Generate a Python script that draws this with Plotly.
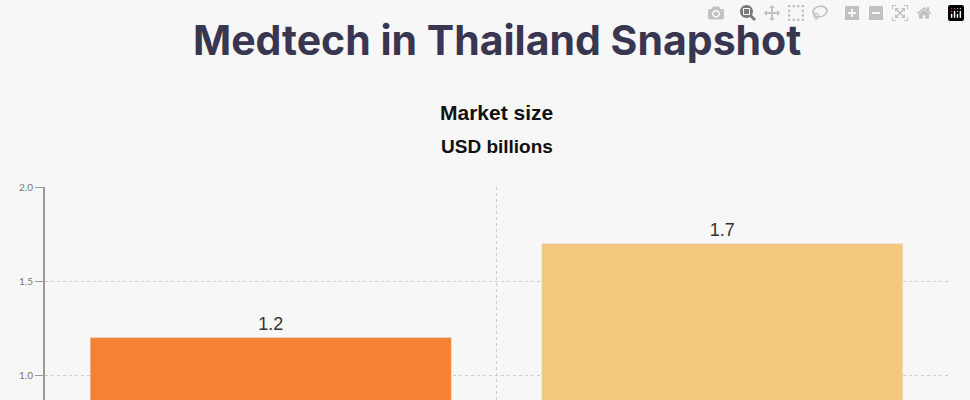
import plotly.graph_objects as go

categories = ["2020", "2025F"]
values = [1.2, 1.7]
labels = ["1.2", "1.7"]
colors = ["#f58232", "#f3c87e"]

H = 400
top = 187
px_per_unit = 188
ymin = 2.0 - (H - top) / px_per_unit

fig = go.Figure()
fig.add_trace(go.Bar(x=categories, y=values, marker_color=colors, width=0.8,
                     text=labels, textposition="outside",
                     textfont=dict(family="Liberation Sans, Arial", size=18, color="#333"),
                     cliponaxis=False, showlegend=False))
fig.add_trace(go.Scatter(x=[0, 2], y=[None, None], xaxis="x2", showlegend=False, hoverinfo="skip"))

fig.update_layout(
    width=970, height=H,
    paper_bgcolor="#f7f7f7", plot_bgcolor="#f7f7f7",
    margin=dict(l=45, r=22, t=top, b=0),
    bargap=0.2,
    xaxis=dict(type="category", showgrid=False, showline=False, ticks="", showticklabels=False),
    xaxis2=dict(overlaying="x", range=[0, 2], dtick=1, showgrid=True, griddash="dot",
                gridcolor="#cccccc", showticklabels=False, zeroline=False),
    yaxis=dict(range=[ymin, 2.0], tick0=0, dtick=0.5, tickformat=".1f", showgrid=True, griddash="dot",
               gridcolor="#cccccc", showline=True, linecolor="#999", linewidth=2,
               ticks="outside", ticklen=8, tickcolor="#999", zeroline=False,
               tickfont=dict(family="Lato", size=10, color="#777")),
    annotations=[
        dict(text="<b>Medtech in Thailand Snapshot</b>", xref="paper", yref="paper",
             x=0.5, xanchor="center", y=1 + (top - 40) / (H - top), yanchor="middle", showarrow=False,
             font=dict(family="Inter", size=41, color="#383650")),
        dict(text="<b>Market size</b>", xref="paper", yref="paper",
             x=0.5, xanchor="center", y=1 + (top - 113) / (H - top), yanchor="middle", showarrow=False,
             font=dict(family="Liberation Sans, Arial", size=21, color="#111")),
        dict(text="<b>USD billions</b>", xref="paper", yref="paper",
             x=0.5, xanchor="center", y=1 + (top - 146) / (H - top), yanchor="middle", showarrow=False,
             font=dict(family="Liberation Sans, Arial", size=19, color="#111")),
    ],
)
fig.write_html("out.html")
with open("out.html", encoding="utf-8") as f:
    html = f.read()
html = html.replace("<body>", '<body style="margin:0;overflow:hidden">', 1)
with open("out.html", "w", encoding="utf-8") as f:
    f.write(html)
